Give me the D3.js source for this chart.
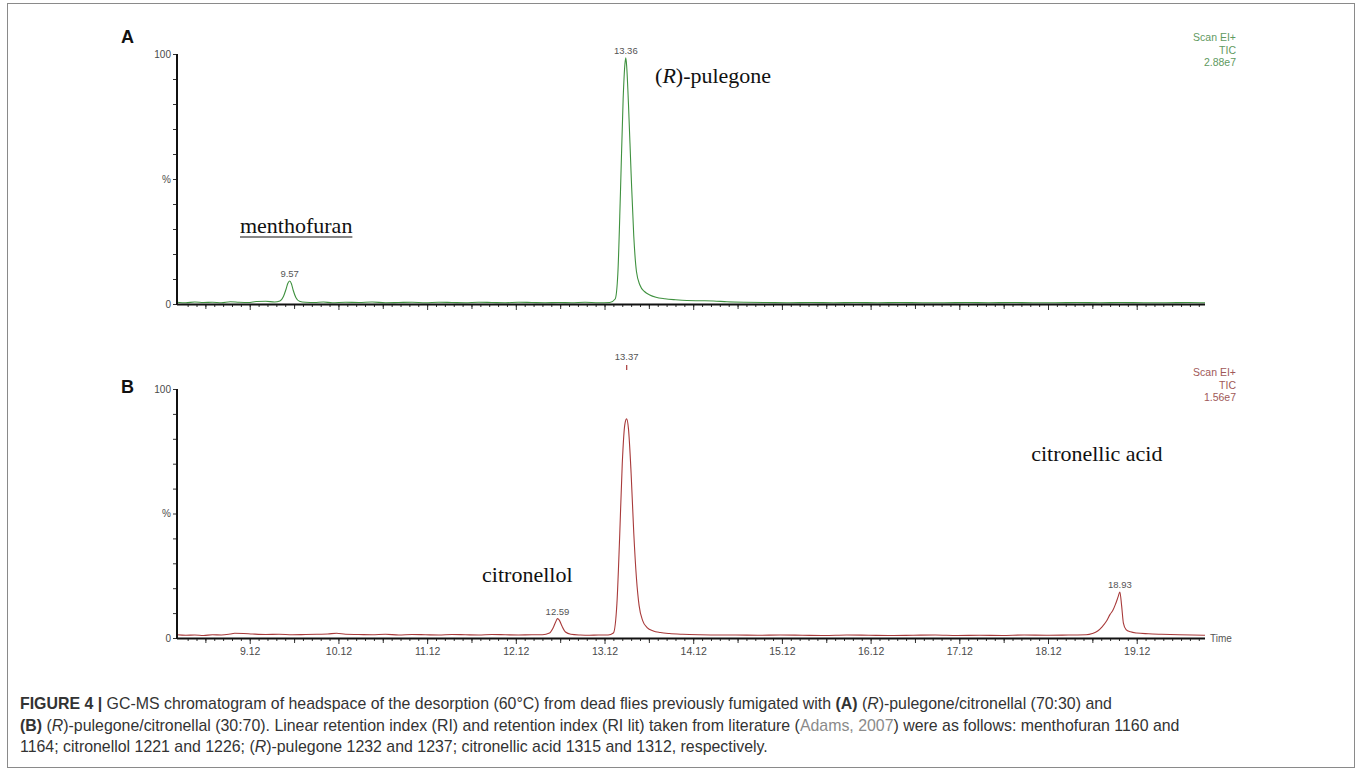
<!DOCTYPE html>
<html>
<head>
<meta charset="utf-8">
<script src="https://cdn.jsdelivr.net/npm/d3@7"></script>
<style>
body { margin: 0; background: #fff; }
svg { display: block; }
.axis text { font-family: "Liberation Sans", Arial, sans-serif; fill: #4a4a4a; }
.caption { font-family: "Liberation Sans Narrow", "Arial Narrow", "Liberation Sans", sans-serif; font-size: 15.9px; fill: #333; }
</style>
</head>
<body>
<div id="chart"></div>
<script>
// Data (times in minutes, intensity in % of base peak)
const timesA = [8.30, 8.40, 8.50, 8.60, 8.70, 8.80, 8.90, 9.00, 9.10, 9.20, 9.30, 9.40, 9.46, 9.50, 9.53, 9.55, 9.57, 9.59,
    9.61, 9.64, 9.68, 9.75, 9.85, 9.95, 10.05, 10.20, 10.35, 10.50, 10.65, 10.80, 10.95, 11.10, 11.25, 11.40, 11.55,
    11.70, 11.85, 12.00, 12.15, 12.30, 12.45, 12.60, 12.75, 12.90, 13.05, 13.18, 13.24, 13.27, 13.30, 13.33, 13.35,
    13.36, 13.37, 13.39, 13.42, 13.45, 13.48, 13.52, 13.57, 13.63, 13.70, 13.80, 13.92, 14.05, 14.20, 14.35, 14.50,
    14.70, 14.95, 15.20, 15.45, 15.70, 15.95, 16.20, 16.45, 16.70, 16.95, 17.20, 17.45, 17.70, 17.95, 18.20, 18.45,
    18.70, 18.95, 19.20, 19.45, 19.70, 19.89];
const valuesA = [0.7, 0.5, 0.8, 0.6, 0.7, 0.5, 0.9, 0.7, 0.6, 1.0, 1.1, 0.8, 1.2, 3.0, 6.0, 8.3, 9.2, 8.1,
    5.5, 2.6, 1.1, 0.7, 0.6, 0.8, 0.5, 0.7, 0.6, 0.8, 0.5, 0.6, 0.7, 0.5, 0.7, 0.6, 0.5,
    0.7, 0.6, 0.5, 0.7, 0.6, 0.5, 0.6, 0.5, 0.7, 0.5, 0.6, 2.0, 12, 45, 82, 96,
    98.5, 95, 80, 52, 27, 13, 7.5, 5.0, 3.6, 2.7, 2.1, 1.7, 1.4, 1.3, 1.2, 0.9,
    0.7, 0.6, 0.5, 0.6, 0.5, 0.6, 0.5, 0.6, 0.5, 0.5, 0.6, 0.5, 0.6, 0.5, 0.5, 0.6,
    0.5, 0.6, 0.5, 0.5, 0.6, 0.5];

const timesB = [8.30, 8.40, 8.50, 8.60, 8.70, 8.80, 8.90, 8.95, 9.05, 9.15, 9.30, 9.45, 9.60, 9.75, 9.90, 10.00, 10.10,
    10.20, 10.35, 10.50, 10.65, 10.80, 10.95, 11.10, 11.25, 11.40, 11.55, 11.70, 11.85, 12.00, 12.15, 12.30, 12.42,
    12.50, 12.54, 12.57, 12.59, 12.61, 12.64, 12.68, 12.74, 12.85, 12.95, 13.05, 13.16, 13.22, 13.26, 13.29, 13.32,
    13.35, 13.37, 13.39, 13.42, 13.45, 13.48, 13.51, 13.55, 13.60, 13.67, 13.75, 13.85, 14.00, 14.20, 14.40, 14.60,
    14.85, 15.10, 15.35, 15.60, 15.85, 16.10, 16.35, 16.60, 16.85, 17.10, 17.35, 17.60, 17.85, 18.10, 18.35, 18.55,
    18.62, 18.68, 18.73, 18.78, 18.82, 18.85, 18.88, 18.91, 18.93, 18.95, 18.97, 19.00, 19.05, 19.12, 19.25, 19.40,
    19.60, 19.75, 19.89];
const valuesB = [1.3, 1.1, 1.2, 1.0, 1.3, 1.2, 1.6, 1.9, 1.8, 1.6, 1.4, 1.5, 1.3, 1.4, 1.5, 1.6, 1.9,
    1.5, 1.4, 1.3, 1.5, 1.2, 1.4, 1.3, 1.2, 1.4, 1.3, 1.2, 1.4, 1.3, 1.2, 1.3, 1.3,
    2.0, 4.0, 6.5, 7.8, 7.2, 4.8, 2.4, 1.5, 1.2, 1.1, 1.2, 1.2, 2.0, 14, 40, 70,
    86, 88, 84, 66, 42, 24, 13, 7.0, 4.2, 2.8, 2.2, 1.8, 1.5, 1.3, 1.2, 1.2,
    1.1, 1.2, 1.1, 1.0, 1.2, 1.1, 1.0, 1.1, 1.2, 1.0, 1.1, 1.0, 1.2, 1.1, 1.2, 1.3,
    1.8, 2.8, 4.5, 6.8, 9.5, 11, 13.5, 16.5, 18.5, 13, 6.0, 3.4, 2.5, 2.0, 1.7, 1.5,
    1.3, 1.2, 1.1];

const peakTimesA = [9.57, 13.36];
const peakValuesA = [9.2, 98.5];
const peakTimesB = [12.59, 13.37, 18.93];
const peakValuesB = [7.8, 110, 18.5];

const tickLabels = ['9.12', '10.12', '11.12', '12.12', '13.12', '14.12', '15.12', '16.12', '17.12', '18.12', '19.12'];
const headerA = ['Scan EI+', 'TIC', '2.88e7'];
const headerB = ['Scan EI+', 'TIC', '1.56e7'];

const greenLine = '#3f913f', greenText = '#5f9a5f';
const redLine = '#a83a3a', redText = '#a05858';

const width = 1358, height = 772;
const svg = d3.select('#chart').append('svg')
    .attr('width', width)
    .attr('height', height);

// outer frame
svg.append('rect')
    .attr('x', 7.5).attr('y', 3.5)
    .attr('width', 1347).attr('height', 764)
    .attr('fill', 'none').attr('stroke', '#8a8a8a').attr('stroke-width', 1);

const x = d3.scaleLinear().domain([8.30, 19.89]).range([177, 1205]);
const majors = tickLabels.map(Number);
const mediums = majors.map(d => d - 0.5).filter(d => d > 8.3);
const minors = d3.range(8.42, 19.89, 0.1).map(d => +d.toFixed(2));

function drawPanel(top, bottom, times, values, lineColor, textColor, header, peakT, peakV, showLabels, letter) {
    const y = d3.scaleLinear().domain([0, 100]).range([bottom, top]);
    const g = svg.append('g');

    // y axis
    const yAxis = d3.axisLeft(y)
        .tickValues(d3.range(0, 101, 10))
        .tickSize(4)
        .tickPadding(2)
        .tickFormat(d => d === 0 ? '0' : d === 50 ? '%' : d === 100 ? '100' : '');
    const ya = g.append('g').attr('class', 'axis')
        .attr('transform', `translate(${x.range()[0]},0)`)
        .call(yAxis);
    ya.select('.domain').remove();
    ya.selectAll('line').attr('stroke', '#333');
    ya.selectAll('text').attr('font-size', 10);

    // x axis ticks
    const xa = g.append('g').attr('class', 'axis').attr('transform', `translate(0,${bottom})`);
    xa.append('g').call(d3.axisBottom(x).tickValues(minors).tickSize(3).tickFormat(''));
    xa.append('g').call(d3.axisBottom(x).tickValues(mediums).tickSize(5).tickFormat(''));
    xa.append('g').call(d3.axisBottom(x).tickValues(majors).tickSize(6)
        .tickFormat((d, i) => showLabels ? tickLabels[i] : ''));
    xa.selectAll('.domain').remove();
    xa.selectAll('line').attr('stroke', '#333');
    xa.selectAll('text').attr('font-size', 10.5).attr('dy', '0.8em');

    // trace
    const line = d3.line()
        .x((d, i) => x(times[i]))
        .y(d => y(d))
        .curve(d3.curveMonotoneX);
    g.append('path')
        .datum(values)
        .attr('d', line)
        .attr('fill', 'none')
        .attr('stroke', lineColor)
        .attr('stroke-width', 1.1);

    // axis lines
    g.append('line')
        .attr('x1', x.range()[0]).attr('x2', x.range()[0])
        .attr('y1', y(100)).attr('y2', bottom + 1)
        .attr('stroke', '#111').attr('stroke-width', 2);
    g.append('line')
        .attr('x1', x.range()[0]).attr('x2', x.range()[1])
        .attr('y1', bottom + 0.5).attr('y2', bottom + 0.5)
        .attr('stroke', '#111').attr('stroke-width', 2);

    // peak labels
    peakT.forEach((t, i) => {
        const py = y(peakV[i]);
        g.append('text')
            .attr('x', x(t)).attr('y', py - 4)
            .attr('text-anchor', 'middle')
            .attr('font-family', '"Liberation Sans", Arial, sans-serif')
            .attr('font-size', 9.5)
            .attr('fill', '#555')
            .text(t.toFixed(2));
        if (peakV[i] > 100) {
            g.append('line')
                .attr('x1', x(t)).attr('x2', x(t))
                .attr('y1', py + 1).attr('y2', py + 6)
                .attr('stroke', lineColor).attr('stroke-width', 1.2);
        }
    });

    // header (Scan EI+ / TIC / scale)
    header.forEach((h, i) => {
        g.append('text')
            .attr('x', 1236).attr('y', top - 13 + i * 12.5)
            .attr('text-anchor', 'end')
            .attr('font-family', '"Liberation Sans", Arial, sans-serif')
            .attr('font-size', 10.5)
            .attr('fill', textColor)
            .text(h);
    });

    // panel letter
    g.append('text')
        .attr('x', 121).attr('y', letter.y)
        .attr('font-family', '"Liberation Sans", Arial, sans-serif')
        .attr('font-weight', 'bold')
        .attr('font-size', 18)
        .attr('fill', '#111')
        .text(letter.text);

    return y;
}

const yA = drawPanel(54, 304, timesA, valuesA, greenLine, greenText, headerA, peakTimesA, peakValuesA, false, {text: 'A', y: 43});
const yB = drawPanel(389, 638, timesB, valuesB, redLine, redText, headerB, peakTimesB, peakValuesB, true, {text: 'B', y: 393});

svg.append('text')
    .attr('x', 1210).attr('y', 642)
    .attr('font-family', '"Liberation Sans", Arial, sans-serif')
    .attr('font-size', 10).attr('fill', '#555')
    .text('Time');

// compound annotations
const serif = '"Liberation Serif", "Times New Roman", serif';
function annotate(t, yv, scaleY, parts) {
    const txt = svg.append('text')
        .attr('x', x(t)).attr('y', scaleY(yv))
        .attr('font-family', serif).attr('font-size', 22).attr('fill', '#111');
    parts.forEach(p => txt.append('tspan').attr('font-style', p[1] ? 'italic' : null).text(p[0]));
    return txt;
}
const mf = annotate(9.01, 28.4, yA, [['menthofuran', false]]);
const mfBox = mf.node().getBBox();
svg.append('line')
    .attr('x1', mfBox.x).attr('x2', mfBox.x + mfBox.width)
    .attr('y1', yA(28.4) + 4).attr('y2', yA(28.4) + 4)
    .attr('stroke', '#111').attr('stroke-width', 1.2);
annotate(13.69, 88.4, yA, [['(', false], ['R', true], [')-pulegone', false]]);
annotate(11.74, 22.5, yB, [['citronellol', false]]);
annotate(17.93, 71, yB, [['citronellic acid', false]]);

// caption
const captionLines = [
    [['FIGURE 4 |', 'b'], [' GC-MS chromatogram of headspace of the desorption (60°C) from dead flies previously fumigated with ', ''],
     ['(A)', 'b'], [' (', ''], ['R', 'i'], [')-pulegone/citronellal (70:30) and', '']],
    [['(B)', 'b'], [' (', ''], ['R', 'i'], [')-pulegone/citronellal (30:70). Linear retention index (RI) and retention index (RI lit) taken from literature (', ''],
     ['Adams, 2007', 'g'], [') were as follows: menthofuran 1160 and', '']],
    [['1164; citronellol 1221 and 1226; (', ''], ['R', 'i'], [')-pulegone 1232 and 1237; citronellic acid 1315 and 1312, respectively.', '']]
];
captionLines.forEach((ln, i) => {
    const t = svg.append('text').attr('class', 'caption')
        .attr('x', 20).attr('y', 709 + i * 21.5);
    ln.forEach(p => {
        t.append('tspan')
            .attr('font-weight', p[1] === 'b' ? 'bold' : null)
            .attr('font-style', p[1] === 'i' ? 'italic' : null)
            .attr('fill', p[1] === 'g' ? '#8a8a8a' : null)
            .text(p[0]);
    });
});
</script>
</body>
</html>
